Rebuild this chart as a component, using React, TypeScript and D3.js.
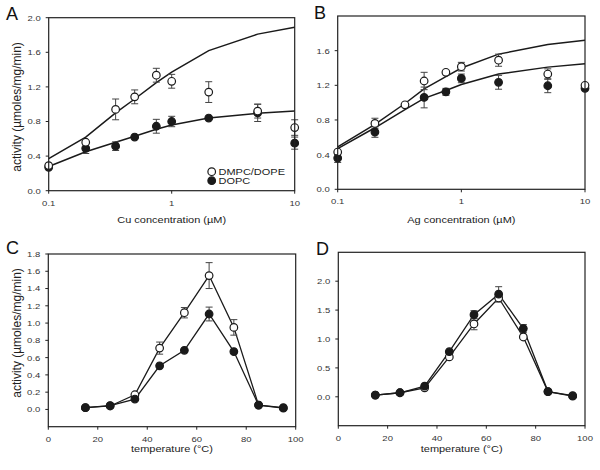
import React from "react";
import * as d3 from "d3";

// ---------- data ----------
const concX = [0.1, 0.2, 0.35, 0.5, 0.75, 1, 2, 5, 10];
const concTicks = [0.1, 1, 10];
const concTickLabels = ["0.1", "1", "10"];

// Panel A: Cu
const cuOpen = [0.29, 0.56, 0.94, 1.085, 1.335, 1.265, 1.14, 0.92, 0.73];
const cuOpenErr = [0, 0, 0.12, 0.08, 0.08, 0.08, 0.12, 0.08, 0.09];
const cuFilled = [0.27, 0.49, 0.515, 0.62, 0.745, 0.8, 0.84, 0.9, 0.55];
const cuFilledErr = [0, 0.06, 0.05, 0, 0.08, 0.06, 0, 0.1, 0.07];
const cuFitOpen = [0.37, 0.62, 0.9, 1.06, 1.25, 1.37, 1.62, 1.81, 1.89];
const cuFitFilled = [0.28, 0.45, 0.56, 0.63, 0.71, 0.76, 0.84, 0.895, 0.92];

// Panel B: Ag
const agOpen = [0.43, 0.76, 0.975, 1.25, 1.35, 1.415, 1.49, 1.33, 1.2];
const agOpenErr = [0, 0.06, 0, 0.1, 0, 0.05, 0.07, 0.06, 0];
const agFilled = [0.36, 0.66, null, 1.06, 1.125, 1.28, 1.235, 1.195, 1.165];
const agFilledErr = [0.05, 0.06, 0, 0.12, 0.04, 0.05, 0.08, 0.08, 0];
const agFitOpen = [0.49, 0.75, 0.99, 1.16, 1.3, 1.4, 1.56, 1.67, 1.72];
const agFitFilled = [0.47, 0.71, 0.92, 1.05, 1.14, 1.21, 1.33, 1.41, 1.45];

const abYTicks = [0, 0.4, 0.8, 1.2, 1.6, 2.0];

// Panels C, D: temperature
const tempX = [15, 25, 35, 45, 55, 65, 75, 85, 95];
const tempTicks = [0, 20, 40, 60, 80, 100];

const cOpen = [0.02, 0.04, 0.17, 0.71, 1.12, 1.55, 0.95, 0.05, 0.02];
const cOpenErr = [0, 0, 0, 0.07, 0.06, 0.15, 0.09, 0, 0];
const cFilled = [0.02, 0.045, 0.12, 0.505, 0.685, 1.105, 0.67, 0.05, 0.015];
const cFilledErr = [0, 0, 0, 0, 0, 0.08, 0, 0, 0];
const cYTicks = [0, 0.2, 0.4, 0.6, 0.8, 1.0, 1.2, 1.4, 1.6, 1.8];

const dOpen = [0.03, 0.07, 0.155, 0.69, 1.26, 1.71, 1.035, 0.09, 0.02];
const dOpenErr = [0, 0, 0, 0, 0.1, 0.07, 0, 0, 0];
const dFilled = [0.03, 0.07, 0.185, 0.78, 1.42, 1.775, 1.18, 0.09, 0.01];
const dFilledErr = [0, 0, 0, 0, 0.07, 0.13, 0.07, 0, 0];
const dYTicks = [0, 0.5, 1.0, 1.5, 2.0];

const legendLabels = ["DMPC/DOPE", "DOPC"];

// ---------- drawing ----------
const FONT = "'Liberation Sans', Arial, Helvetica, sans-serif";
const INK = "#1a1a1a";
const TXT = "#333";
const SQ = 0.85; // vertical squash of horizontal text, as in the reference

type Series = { y: (number | null)[]; err: number[]; open: boolean };

function HText({
  x,
  y,
  size,
  anchor = "start",
  fill = "#222",
  children,
}: {
  x: number;
  y: number;
  size: number;
  anchor?: "start" | "middle" | "end";
  fill?: string;
  children: React.ReactNode;
}) {
  return (
    <text
      transform={`translate(${x},${y}) scale(1,${SQ})`}
      textAnchor={anchor}
      fontSize={size}
      fontFamily={FONT}
      fill={fill}
    >
      {children}
    </text>
  );
}

type PanelProps = {
  letter: string;
  letterPos: [number, number];
  box: { l: number; r: number; t: number; b: number };
  log: boolean;
  xDomain: [number, number];
  xTicks: number[];
  xTickLabels: string[];
  x: number[];
  yDomain: [number, number];
  yTicks: number[];
  yFmt: (v: number) => string;
  series: Series[];
  fits?: number[][];
  connect?: boolean;
  xLabel: string;
  xLabelY: number;
  yLabel?: boolean;
  yLabelY?: number;
  legend?: boolean;
};

function Marker({ cx, cy, open }: { cx: number; cy: number; open: boolean }) {
  return (
    <circle
      cx={cx}
      cy={cy}
      r={3.8}
      fill={open ? "#fff" : INK}
      stroke={INK}
      strokeWidth={1.2}
    />
  );
}

function Panel(p: PanelProps) {
  const { box } = p;
  const xs = p.log
    ? d3.scaleLog().domain(p.xDomain).range([box.l, box.r])
    : d3.scaleLinear().domain(p.xDomain).range([box.l, box.r]);
  const ys = d3.scaleLinear().domain(p.yDomain).range([box.b, box.t]);
  const line = d3
    .line<[number, number]>()
    .x((d) => xs(d[0]))
    .y((d) => ys(d[1]));

  return (
    <g>
      <text x={p.letterPos[0]} y={p.letterPos[1]} fontSize={18} fontFamily={FONT} fill="#111">
        {p.letter}
      </text>
      {p.fits &&
        p.fits.map((f, i) => (
          <path
            key={"fit" + i}
            d={line(f.map((v, j) => [p.x[j], v] as [number, number])) || ""}
            fill="none"
            stroke={INK}
            strokeWidth={1.5}
          />
        ))}
      {p.connect &&
        p.series.map((s, i) => (
          <path
            key={"ln" + i}
            d={
              line(
                s.y
                  .map((v, j) => [p.x[j], v] as [number, number | null])
                  .filter((d) => d[1] !== null) as [number, number][]
              ) || ""
            }
            fill="none"
            stroke={INK}
            strokeWidth={1.3}
          />
        ))}
      {p.series.map((s, i) =>
        s.y.map((v, j) => {
          const e = s.err[j];
          if (v === null || !e) return null;
          const cx = xs(p.x[j]);
          const y1 = ys(v - e);
          const y2 = ys(v + e);
          return (
            <g key={"e" + i + "-" + j} stroke="#444" strokeWidth={1}>
              <line x1={cx} x2={cx} y1={y1} y2={y2} />
              <line x1={cx - 3.5} x2={cx + 3.5} y1={y1} y2={y1} />
              <line x1={cx - 3.5} x2={cx + 3.5} y1={y2} y2={y2} />
            </g>
          );
        })
      )}
      {p.series.map((s, i) =>
        s.y.map((v, j) =>
          v === null ? null : (
            <Marker key={"m" + i + "-" + j} cx={xs(p.x[j])} cy={ys(v)} open={s.open} />
          )
        )
      )}
      <rect
        x={box.l}
        y={box.t}
        width={box.r - box.l}
        height={box.b - box.t}
        fill="none"
        stroke="#222"
        strokeWidth={1.2}
      />
      {p.xTicks.map((t, i) => (
        <g key={"xt" + i}>
          <line x1={xs(t)} x2={xs(t)} y1={box.b} y2={box.b + 3} stroke="#222" strokeWidth={1} />
          <HText x={xs(t)} y={box.b + 14.8} size={9.5} anchor="middle" fill={TXT}>
            {p.xTickLabels[i]}
          </HText>
        </g>
      ))}
      {p.yTicks.map((t, i) => (
        <g key={"yt" + i}>
          <line x1={box.l - 3} x2={box.l} y1={ys(t)} y2={ys(t)} stroke="#222" strokeWidth={1} />
          <HText x={box.l - 8} y={ys(t) + 2.9} size={9.5} anchor="end" fill={TXT}>
            {p.yFmt(t)}
          </HText>
        </g>
      ))}
      <HText x={(box.l + box.r) / 2} y={p.xLabelY} size={11} anchor="middle">
        {p.xLabel}
      </HText>
      {p.yLabel && (
        <text
          transform={`translate(20.5,${p.yLabelY}) rotate(-90)`}
          textAnchor="middle"
          fontSize={12}
          fontFamily={FONT}
          fill="#222"
        >
          activity (µmoles/mg/min)
        </text>
      )}
      {p.legend && (
        <g>
          <Marker cx={211.7} cy={171.7} open={true} />
          <HText x={218.5} y={174.6} size={11}>
            {legendLabels[0]}
          </HText>
          <Marker cx={211.7} cy={180.7} open={false} />
          <HText x={218.5} y={183.6} size={11}>
            {legendLabels[1]}
          </HText>
        </g>
      )}
    </g>
  );
}

const fmt1 = d3.format(".1f");

export default function App() {
  return (
    <svg
      width={600}
      height={470}
      style={{ position: "absolute", left: 0, top: 0, background: "#fff" }}
    >
      <rect x={0} y={0} width={600} height={470} fill="#fff" />
      <Panel
        letter="A"
        letterPos={[6, 20]}
        box={{ l: 48.7, r: 294.7, t: 17.7, b: 190.7 }}
        log={true}
        xDomain={[0.1, 10]}
        xTicks={concTicks}
        xTickLabels={concTickLabels}
        x={concX}
        yDomain={[0, 2]}
        yTicks={abYTicks}
        yFmt={fmt1}
        series={[
          { y: cuFilled, err: cuFilledErr, open: false },
          { y: cuOpen, err: cuOpenErr, open: true },
        ]}
        fits={[cuFitOpen, cuFitFilled]}
        xLabel="Cu concentration (µM)"
        xLabelY={223}
        yLabel={true}
        yLabelY={107}
        legend={true}
      />
      <Panel
        letter="B"
        letterPos={[314, 18.5]}
        box={{ l: 337.7, r: 585, t: 16, b: 189.3 }}
        log={true}
        xDomain={[0.1, 10]}
        xTicks={concTicks}
        xTickLabels={concTickLabels}
        x={concX}
        yDomain={[0, 2]}
        yTicks={abYTicks.slice(0, 5)}
        yFmt={fmt1}
        series={[
          { y: agFilled, err: agFilledErr, open: false },
          { y: agOpen, err: agOpenErr, open: true },
        ]}
        fits={[agFitOpen, agFitFilled]}
        xLabel="Ag concentration (µM)"
        xLabelY={222.5}
      />
      <Panel
        letter="C"
        letterPos={[6, 253.5]}
        box={{ l: 48.3, r: 295.7, t: 254, b: 426.7 }}
        log={false}
        xDomain={[0, 100]}
        xTicks={tempTicks}
        xTickLabels={tempTicks.map(String)}
        x={tempX}
        yDomain={[-0.2, 1.8]}
        yTicks={cYTicks}
        yFmt={fmt1}
        series={[
          { y: cOpen, err: cOpenErr, open: true },
          { y: cFilled, err: cFilledErr, open: false },
        ]}
        connect={true}
        xLabel="temperature (°C)"
        xLabelY={452}
        yLabel={true}
        yLabelY={333}
      />
      <Panel
        letter="D"
        letterPos={[316, 255]}
        box={{ l: 338.3, r: 585, t: 252.3, b: 425.7 }}
        log={false}
        xDomain={[0, 100]}
        xTicks={tempTicks}
        xTickLabels={tempTicks.map(String)}
        x={tempX}
        yDomain={[-0.5, 2.5]}
        yTicks={dYTicks}
        yFmt={fmt1}
        series={[
          { y: dOpen, err: dOpenErr, open: true },
          { y: dFilled, err: dFilledErr, open: false },
        ]}
        connect={true}
        xLabel="temperature (°C)"
        xLabelY={451.5}
      />
    </svg>
  );
}
